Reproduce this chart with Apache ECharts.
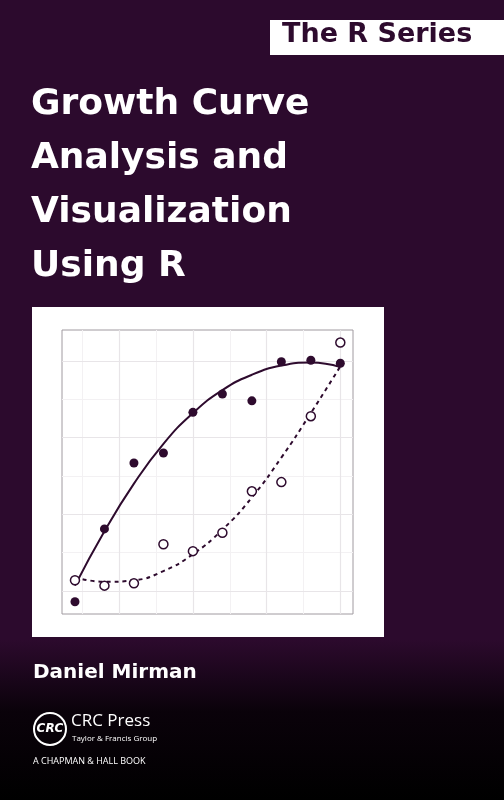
<!DOCTYPE html>
<html>
<head>
<meta charset="utf-8">
<script src="https://cdn.jsdelivr.net/npm/echarts@6/dist/echarts.min.js"></script>
<style>
  html, body { margin: 0; padding: 0; background: #2c0a2d; }
  #chart { width: 504px; height: 800px; }
</style>
</head>
<body>
<div id="chart"></div>
<script>
// time points 1..10
const xs = [1, 2, 3, 4, 5, 6, 7, 8, 9, 10];
// filled dots (condition A)
const filledY = [-0.14, 0.81, 1.67, 1.80, 2.33, 2.57, 2.48, 2.99, 3.01, 2.97];
// open dots (condition B)
const openY = [0.14, 0.07, 0.10, 0.61, 0.52, 0.76, 1.30, 1.42, 2.28, 3.24];
// fitted curves
const fitSolid = [0.07, 0.78, 1.40, 1.92, 2.32, 2.62, 2.82, 2.94, 2.98, 2.92];
const fitDashed = [0.18, 0.12, 0.14, 0.26, 0.48, 0.80, 1.22, 1.74, 2.32, 2.93];
// grid lines
const majorX = [2.5, 5, 7.5, 10];
const minorX = [1.25, 3.75, 6.25, 8.75];
const majorY = [0, 1, 2, 3];
const minorY = [0.5, 1.5, 2.5];

const ink = '#2e0b2e';
const pair = (a, b) => a.map((v, i) => [v, b[i]]);

let myChart = echarts.init(document.getElementById('chart'));

let gridLines = [];
minorX.forEach(v => gridLines.push({ xAxis: v, lineStyle: { color: '#f3f1f3', width: 1, type: 'solid' } }));
minorY.forEach(v => gridLines.push({ yAxis: v, lineStyle: { color: '#f3f1f3', width: 1, type: 'solid' } }));
majorX.forEach(v => gridLines.push({ xAxis: v, lineStyle: { color: '#e8e5e8', width: 1.2, type: 'solid' } }));
majorY.forEach(v => gridLines.push({ yAxis: v, lineStyle: { color: '#e8e5e8', width: 1.2, type: 'solid' } }));

let titleLines = ['Growth Curve', 'Analysis and', 'Visualization', 'Using R'];
let graphics = [
  { type: 'rect', shape: { x: 270, y: 20, width: 234, height: 35 }, style: { fill: '#ffffff' }, z: -10 },
  { type: 'text', left: 282, top: 21, style: { text: 'The R Series', fill: ink, font: 'bold 27px "DejaVu Sans", sans-serif' } },
  { type: 'rect', shape: { x: 32, y: 307, width: 352, height: 330 }, style: { fill: '#ffffff' }, z: -10 },
  { type: 'rect', shape: { x: 0, y: 640, width: 504, height: 160 },
    style: { fill: new echarts.graphic.LinearGradient(0, 0, 0, 1, [
      { offset: 0, color: '#2c0a2d' }, { offset: 0.45, color: '#0a020a' }, { offset: 1, color: '#000000' }]) }, z: -10 },
  { type: 'text', left: 33, top: 663, style: { text: 'Daniel Mirman', fill: '#ffffff', font: 'bold 20px "DejaVu Sans", sans-serif' } },
  { type: 'circle', shape: { cx: 50, cy: 729, r: 16 }, style: { fill: 'none', stroke: '#ffffff', lineWidth: 2 } },
  { type: 'text', x: 50, y: 729, style: { text: 'CRC', fill: '#ffffff', align: 'center', verticalAlign: 'middle', font: 'italic bold 12px "DejaVu Sans", sans-serif' } },
  { type: 'text', left: 71, top: 713, style: { text: 'CRC Press', fill: '#ffffff', font: '17px "Open Sans", sans-serif' } },
  { type: 'text', left: 72, top: 735, style: { text: 'Taylor & Francis Group', fill: '#ffffff', font: '8px "Open Sans", sans-serif' } },
  { type: 'text', left: 33, top: 757, style: { text: 'A CHAPMAN & HALL BOOK', fill: '#ffffff', font: '9px "Open Sans", sans-serif', letterSpacing: 1.5 } }
];
titleLines.forEach((t, i) => {
  graphics.push({ type: 'text', left: 31, top: 87 + i * 54,
    style: { text: t, fill: '#ffffff', font: 'bold 36px "DejaVu Sans", sans-serif' } });
});

let option = {
  backgroundColor: '#2c0a2d',
  animation: false,
  graphic: graphics,
  grid: { left: 62, right: 151, top: 330, bottom: 186, show: true, backgroundColor: '#ffffff', borderColor: '#a09aa0', borderWidth: 1 },
  xAxis: { type: 'value', min: 0.56, max: 10.43, show: false, splitLine: { show: false } },
  yAxis: { type: 'value', min: -0.3, max: 3.404, show: false, splitLine: { show: false } },
  series: [
    {
      type: 'line', data: [], silent: true, z: 0,
      markLine: { symbol: 'none', silent: true, z: 0, label: { show: false }, data: gridLines }
    },
    {
      name: 'fit A', type: 'line', smooth: true, symbol: 'none', zlevel: 1,
      data: pair(xs, fitSolid), lineStyle: { color: ink, width: 2 }
    },
    {
      name: 'fit B', type: 'line', smooth: true, symbol: 'none', zlevel: 1,
      data: pair(xs, fitDashed), lineStyle: { color: ink, width: 2, type: [4, 4] }
    },
    {
      name: 'A', type: 'scatter', data: pair(xs, filledY), symbolSize: 9, zlevel: 2,
      itemStyle: { color: ink, opacity: 1 }
    },
    {
      name: 'B', type: 'scatter', data: pair(xs, openY), symbolSize: 9, zlevel: 2,
      itemStyle: { color: '#ffffff', borderColor: ink, borderWidth: 1.5, opacity: 1 }
    }
  ]
};

myChart.setOption(option);
</script>
</body>
</html>
